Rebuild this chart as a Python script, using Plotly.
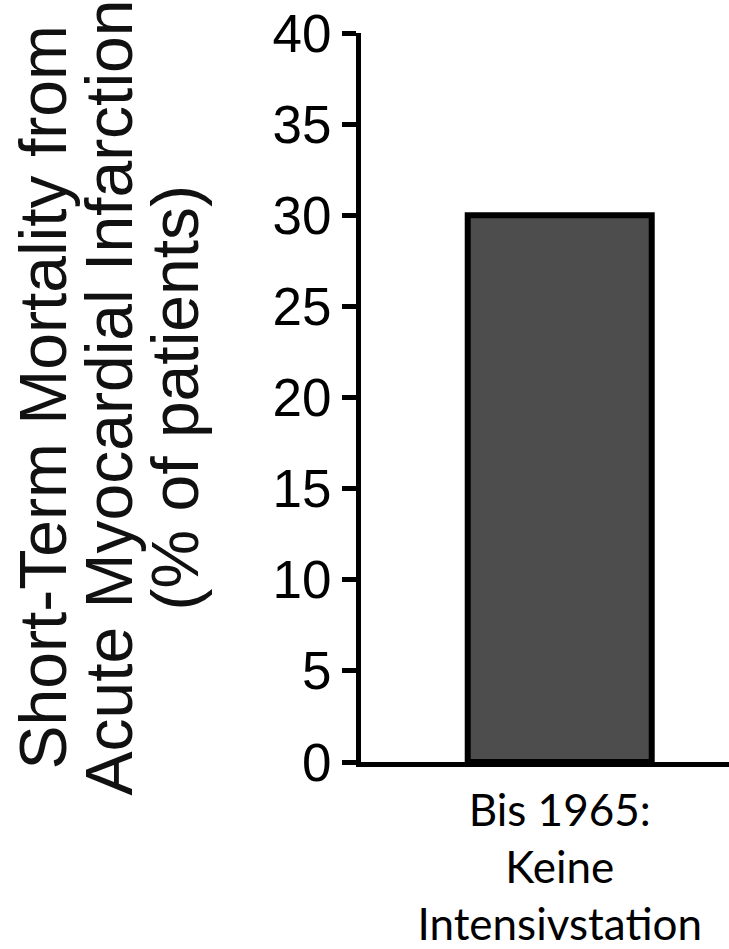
import plotly.graph_objects as go

categories = ["Bis 1965:<br>Keine<br>Intensivstation"]
mortality = [30]
y_ticks = [0, 5, 10, 15, 20, 25, 30, 35, 40]
title_lines = ["Short-Term Mortality from", "Acute Myocardial Infarction", "(% of patients)"]

W, H = 729, 949
ML, MR, MT, MB = 361, 0, 33, 187
plot_w = W - ML - MR

fig = go.Figure()
fig.add_trace(go.Bar(
    x=[0], y=mortality,
    width=0.50,
    marker=dict(color="#4d4d4d", line=dict(color="black", width=6)),
    hoverinfo="skip",
))

fig.update_layout(
    width=W, height=H,
    margin=dict(l=ML, r=MR, t=MT, b=MB, pad=0),
    plot_bgcolor="white", paper_bgcolor="white",
    showlegend=False,
    xaxis=dict(
        range=[-0.54, 0.46],
        tickmode="array", tickvals=[0], ticktext=categories,
        showline=True, linecolor="black", linewidth=5,
        ticks="", showgrid=False, zeroline=False,
        ticklabelstandoff=6,
        tickfont=dict(family="Lato", size=44, color="black"),
    ),
    yaxis=dict(
        range=[0, 40],
        tickmode="array", tickvals=y_ticks,
        showline=True, linecolor="black", linewidth=5,
        ticks="outside", ticklen=14, tickwidth=5, tickcolor="black",
        showgrid=False, zeroline=False,
        tickfont=dict(family="Liberation Sans", size=53, color="black"),
    ),
)

line_x_px = [42, 108, 174]
for txt, px in zip(title_lines, line_x_px):
    fig.add_annotation(
        text=txt, textangle=-90,
        xref="paper", yref="paper",
        x=(px - ML) / plot_w, y=0.5,
        xanchor="center", yanchor="middle",
        showarrow=False,
        font=dict(family="Liberation Sans", size=66, color="#111111"),
    )

fig.write_html("out.html", config={"displayModeBar": False},
               post_script="document.body.style.margin='0';")
